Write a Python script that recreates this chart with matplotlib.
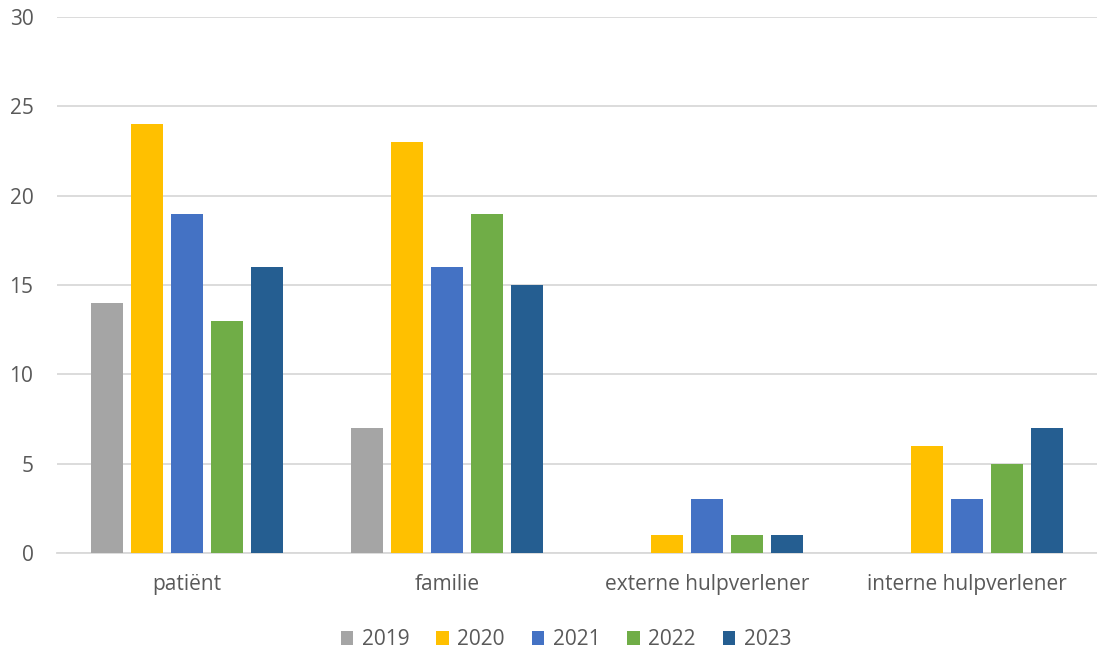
import matplotlib.pyplot as plt
import numpy as np

plt.rcParams['font.family'] = ['Open Sans', 'DejaVu Sans']

categories = ['patiënt', 'familie', 'externe hulpverlener', 'interne hulpverlener']
years = ['2019', '2020', '2021', '2022', '2023']
values = {
    '2019': [14, 7, 0, 0],
    '2020': [24, 23, 1, 6],
    '2021': [19, 16, 3, 3],
    '2022': [13, 19, 1, 5],
    '2023': [16, 15, 1, 7],
}
colors = ['#A5A5A5', '#FFC000', '#4472C4', '#70AD47', '#255E91']

fig = plt.figure(figsize=(10.97, 6.53), dpi=100)
ax = fig.add_axes([0.052, 0.153, 0.948, 0.821])

x = np.arange(len(categories))
step = 40 / 260
width = 32 / 260
for i, yr in enumerate(years):
    ax.bar(x + (i - 2) * step, values[yr], width, color=colors[i], label=yr, zorder=3)

ax.set_xlim(-0.5, len(categories) - 0.5)
ax.set_ylim(0, 30)
ax.set_yticks(range(0, 31, 5))
ax.set_xticks(x)
ax.set_xticklabels(categories)
ax.grid(axis='y', color='#D9D9D9', linewidth=1.3, zorder=0)
for s in ['top', 'right', 'left']:
    ax.spines[s].set_visible(False)
ax.spines['bottom'].set_color('#D9D9D9')
ax.spines['bottom'].set_linewidth(1.3)
ax.tick_params(axis='both', length=0, colors='#595959', labelsize=15)
ax.tick_params(axis='x', pad=15)
ax.tick_params(axis='y', pad=17)

leg = fig.legend(loc='center', bbox_to_anchor=(0.516, 0.02), ncol=5, frameon=False,
                 fontsize=15, handlelength=0.6, handleheight=0.6, handletextpad=0.4,
                 columnspacing=1.3, labelcolor='#595959')

fig.savefig('out.png', dpi=100)
